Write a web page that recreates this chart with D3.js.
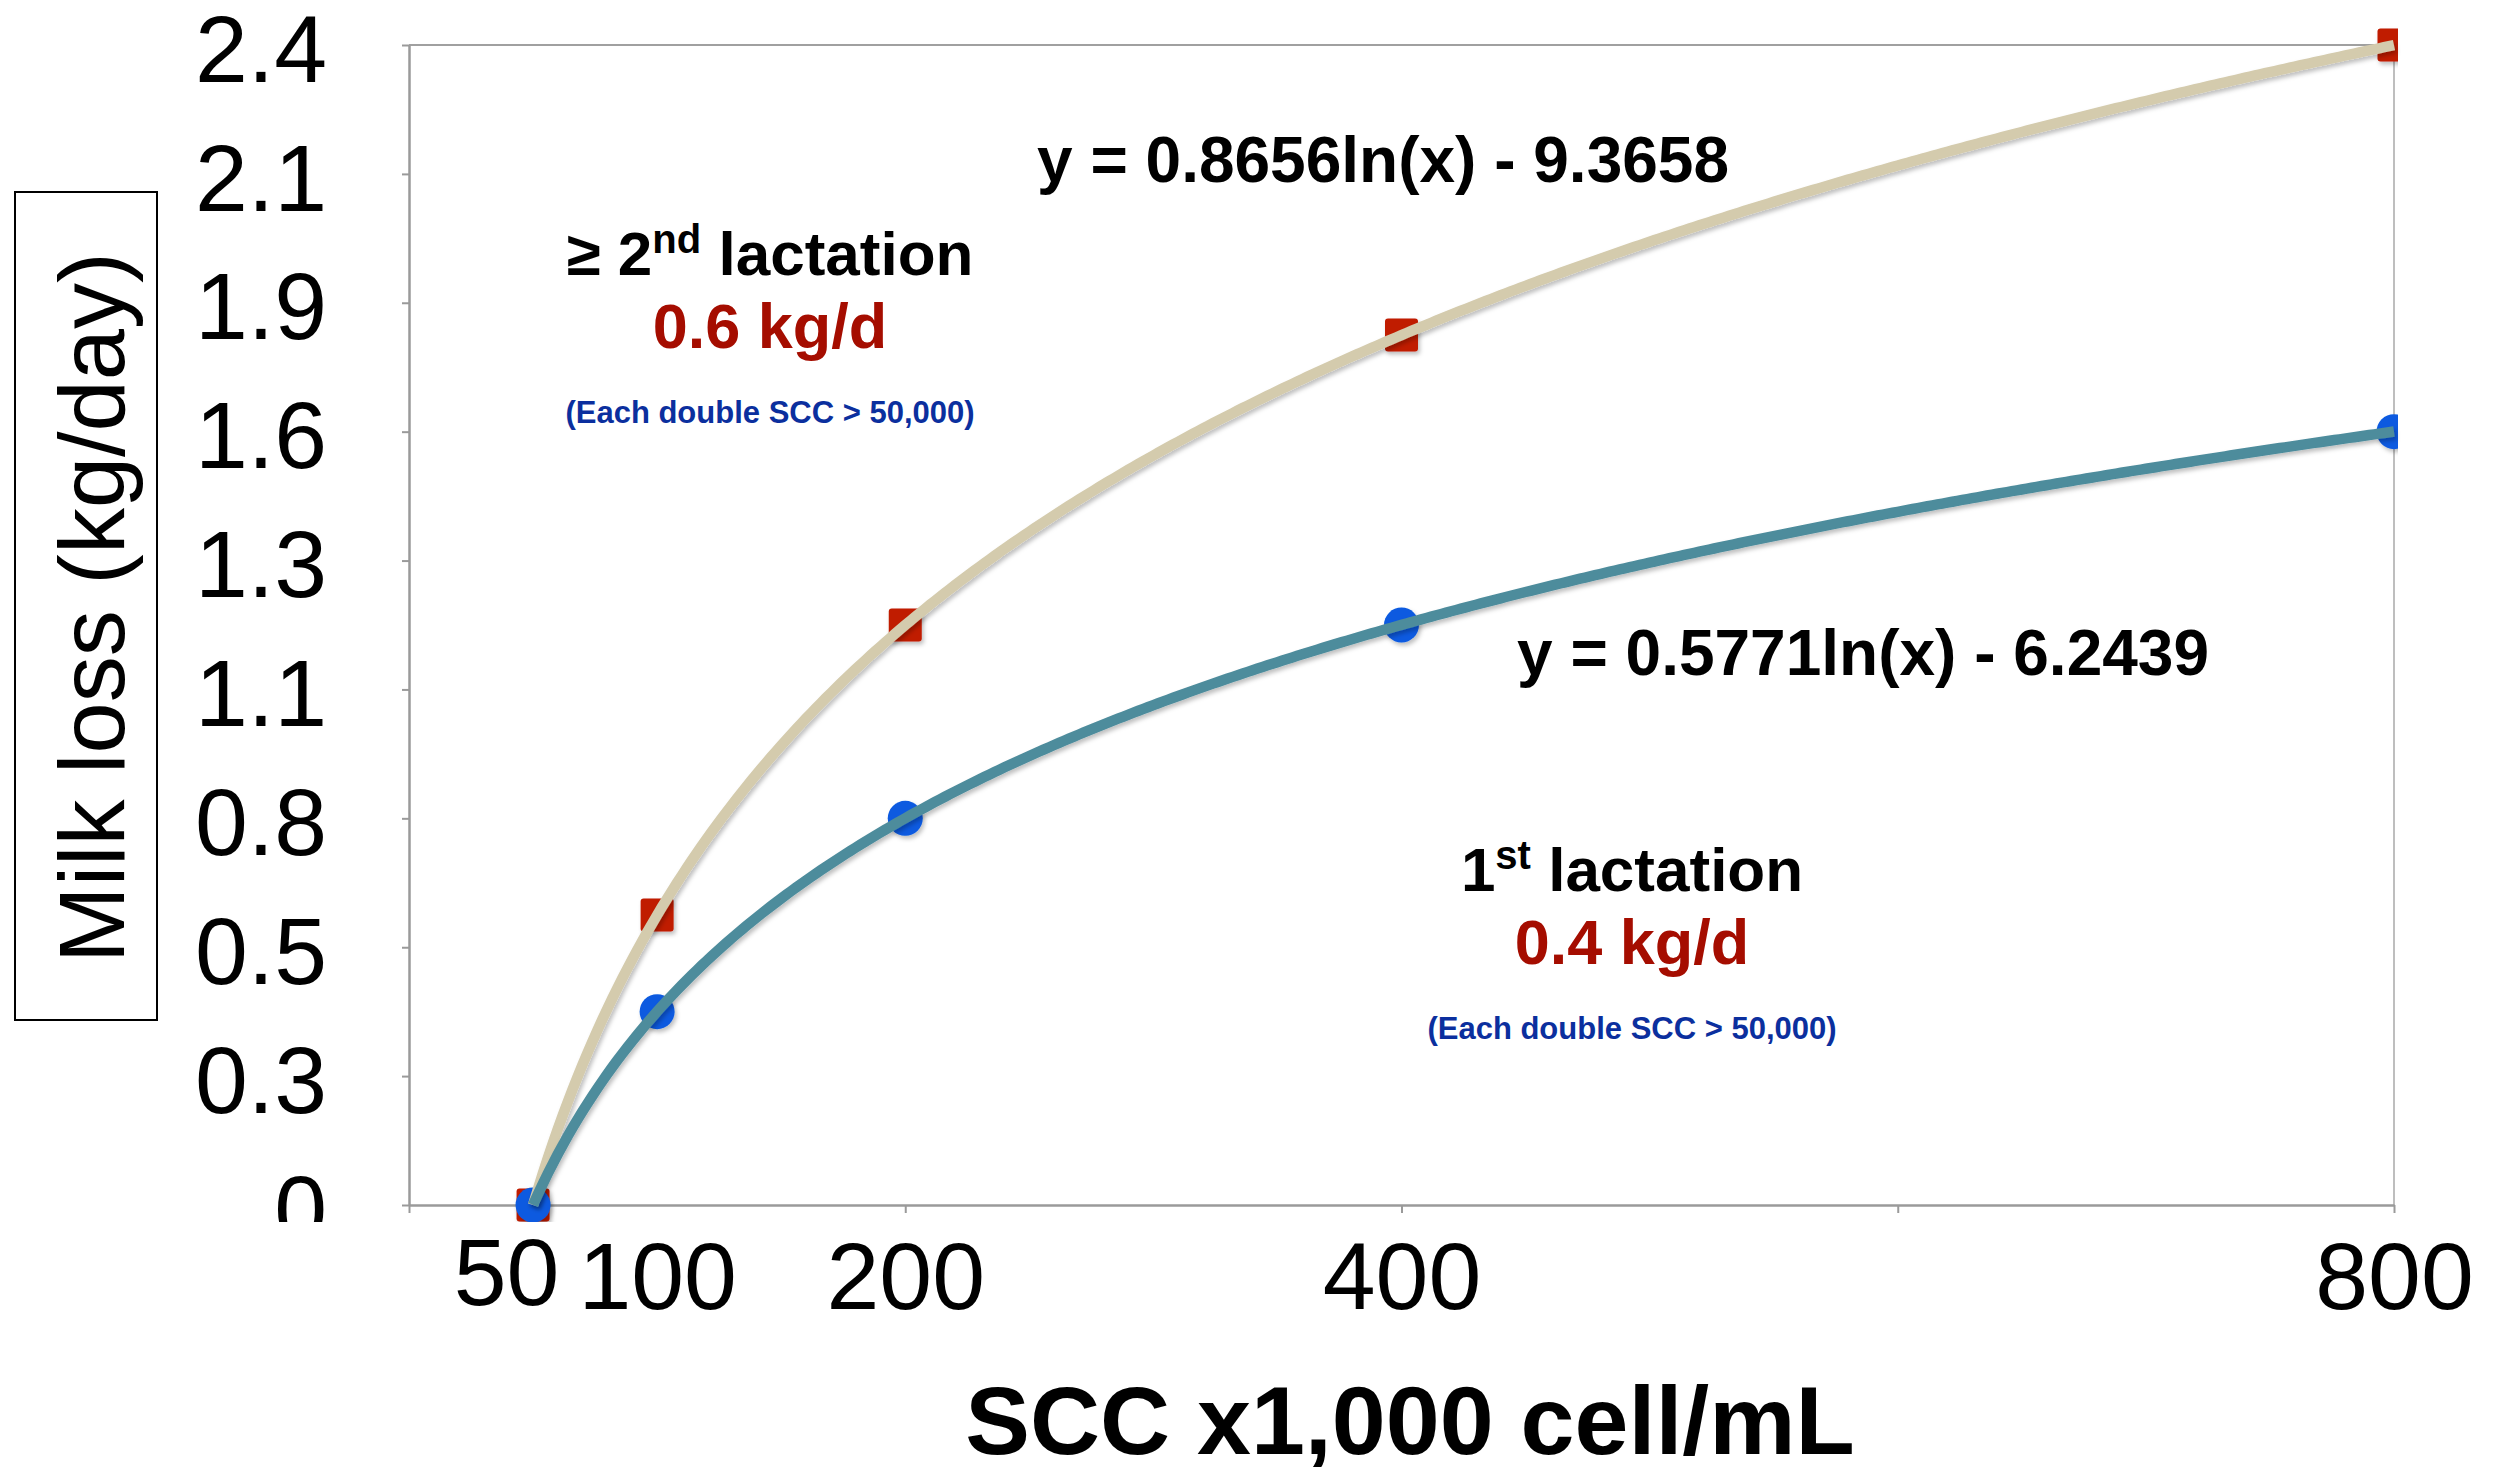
<!DOCTYPE html>
<html>
<head>
<meta charset="utf-8">
<script src="https://cdn.jsdelivr.net/npm/d3@7"></script>
<style>
  body { margin: 0; background: #fff; }
  text { font-family: "Liberation Sans", Arial, Helvetica, sans-serif; }
</style>
</head>
<body>
<svg width="2503" height="1467"></svg>
<script>
// values
var scc = [50, 100, 200, 400, 800];            // x1,000 cell/mL
var lossLater = [0, 0.6, 1.2, 1.8, 2.4];       // >= 2nd lactation
var lossFirst = [0, 0.4, 0.8, 1.2, 1.6];       // 1st lactation
var fitSlope = [0.8656, 0.5771];
var fitIntercept = [-9.3658, -6.2439];
var xTickLabels = [50, 100, 200, 400, 800];
var xTickMarks = [0, 200, 400, 600, 800];
var yTickValues = [0, 0.2667, 0.5333, 0.8, 1.0667, 1.3333, 1.6, 1.8667, 2.1333, 2.4];
var yTickLabels = ["0", "0.3", "0.5", "0.8", "1.1", "1.3", "1.6", "1.9", "2.1", "2.4"];

var svg = d3.select("svg"),
    margin = {top: 45, left: 409},
    width = 1985,
    height = 1160;

var x = d3.scaleLinear().domain([0, 800]).range([0, width]),
    y = d3.scaleLinear().domain([0, 2.4]).range([height, 0]);

var defs = svg.append("defs");
defs.append("clipPath").attr("id", "markClip")
  .append("rect").attr("x", -margin.left).attr("y", -margin.top)
  .attr("width", margin.left + width + 4).attr("height", margin.top + height + 17);
defs.append("clipPath").attr("id", "labelClip")
  .append("rect").attr("x", -margin.left).attr("y", -margin.top)
  .attr("width", margin.left + 10).attr("height", margin.top + height + 17);
var shadow = defs.append("filter").attr("id", "shadow")
  .attr("x", "-20%").attr("y", "-20%").attr("width", "140%").attr("height", "140%");
shadow.append("feDropShadow").attr("dx", 2).attr("dy", 3)
  .attr("stdDeviation", 2).attr("flood-color", "#000").attr("flood-opacity", 0.25);

var g = svg.append("g")
    .attr("transform", "translate(" + margin.left + "," + margin.top + ")");

// frame top / right
g.append("line").attr("x1", 0).attr("x2", width).attr("y1", 0).attr("y2", 0)
  .attr("stroke", "#a0a0a0").attr("stroke-width", 2);
g.append("line").attr("x1", width).attr("x2", width).attr("y1", 0).attr("y2", height)
  .attr("stroke", "#a8a8a8").attr("stroke-width", 1.5);

// y axis
var yAxis = g.append("g")
    .attr("clip-path", "url(#labelClip)")
    .call(d3.axisLeft(y).tickValues(yTickValues)
      .tickFormat(function(d, i) { return yTickLabels[i]; })
      .tickSize(7).tickSizeOuter(0).tickPadding(75));
yAxis.selectAll("text").attr("font-size", 95).attr("fill", "#000").attr("dy", "0.38em")
  .style("font-family", "'Liberation Sans', Arial, sans-serif");

// x axis ticks
var xAxis = g.append("g")
    .attr("transform", "translate(0," + height + ")")
    .call(d3.axisBottom(x).tickValues(xTickMarks).tickFormat("").tickSize(8).tickSizeOuter(0));

[yAxis, xAxis].forEach(function(a) {
  a.select(".domain").attr("stroke", "#9a9a9a").attr("stroke-width", 2.5);
  a.selectAll(".tick line").attr("stroke", "#9a9a9a").attr("stroke-width", 2);
});

// x tick labels
var xLab = g.append("g")
    .attr("transform", "translate(0," + height + ")")
    .call(d3.axisBottom(x).tickValues(xTickLabels).tickSize(0).tickPadding(37));
xLab.select(".domain").remove();
xLab.selectAll("text").attr("font-size", 95).attr("fill", "#000")
  .style("font-family", "'Liberation Sans', Arial, sans-serif")
  .attr("dx", function(d) { return d === 50 ? -27 : 0; })
  .attr("dy", function(d) { return d === 50 ? "0.66em" : "0.71em"; });

// markers
var marks = g.append("g").attr("clip-path", "url(#markClip)");
marks.selectAll(".sq")
  .data(scc)
  .enter().append("rect")
    .attr("class", "sq")
    .attr("x", function(d) { return x(d) - 16.5; })
    .attr("y", function(d, i) { return y(lossLater[i]) - 16.5; })
    .attr("width", 33).attr("height", 33).attr("rx", 3)
    .attr("fill", "#c01b00")
    .attr("filter", "url(#shadow)");
marks.selectAll(".dot")
  .data(scc)
  .enter().append("circle")
    .attr("class", "dot")
    .attr("cx", function(d) { return x(d); })
    .attr("cy", function(d, i) { return y(lossFirst[i]); })
    .attr("r", 17.5)
    .attr("fill", "#0a5ae0")
    .attr("filter", "url(#shadow)");

// logarithmic trendlines from the equations printed on the chart
var xs = d3.range(50, 800, 2).concat([800]);
var line = d3.line()
    .x(function(d) { return x(d[0]); })
    .y(function(d) { return y(d[1]); });
var trendColors = ["#d4cbad", "#4e8c9c"];
[0, 1].forEach(function(k) {
  g.append("path")
    .datum(xs.map(function(v) { return [v, fitSlope[k] * Math.log(v * 1000) + fitIntercept[k]]; }))
    .attr("d", line)
    .attr("fill", "none")
    .attr("stroke", trendColors[k])
    .attr("stroke-width", 10.5)
    .attr("filter", "url(#shadow)");
});

// equations
svg.append("text").attr("x", 1037).attr("y", 182)
  .attr("font-size", 64).attr("font-weight", "bold").attr("fill", "#000")
  .text("y = 0.8656ln(x) - 9.3658");
svg.append("text").attr("x", 1517).attr("y", 675)
  .attr("font-size", 64).attr("font-weight", "bold").attr("fill", "#000")
  .text("y = 0.5771ln(x) - 6.2439");

// lactation notes
function note(cx, by, num, sup, rate) {
  var t = svg.append("text").attr("x", cx).attr("y", by)
    .attr("text-anchor", "middle").attr("font-size", 62).attr("font-weight", "bold").attr("fill", "#000");
  t.append("tspan").text(num);
  t.append("tspan").attr("font-size", 40).attr("dy", -22).text(sup);
  t.append("tspan").attr("dy", 22).text(" lactation");
  svg.append("text").attr("x", cx).attr("y", by + 73)
    .attr("text-anchor", "middle").attr("font-size", 63).attr("font-weight", "bold")
    .attr("fill", "#a50d00").text(rate);
  svg.append("text").attr("x", cx).attr("y", by + 148)
    .attr("text-anchor", "middle").attr("font-size", 31).attr("font-weight", "bold")
    .attr("fill", "#0b2f9e").text("(Each double SCC > 50,000)");
}
note(770, 275, "\u2265 2", "nd", "0.6 kg/d");
note(1632, 891, "1", "st", "0.4 kg/d");

// axis titles
svg.append("rect").attr("x", 15).attr("y", 192).attr("width", 142).attr("height", 828)
  .attr("fill", "none").attr("stroke", "#000").attr("stroke-width", 2);
svg.append("text")
  .attr("transform", "translate(124,963) rotate(-90)")
  .attr("font-size", 92).attr("fill", "#000")
  .text("Milk loss (kg/day)");
svg.append("text").attr("x", 1410).attr("y", 1454)
  .attr("text-anchor", "middle").attr("font-size", 97).attr("font-weight", "bold").attr("fill", "#000")
  .text("SCC x1,000 cell/mL");
</script>
</body>
</html>
